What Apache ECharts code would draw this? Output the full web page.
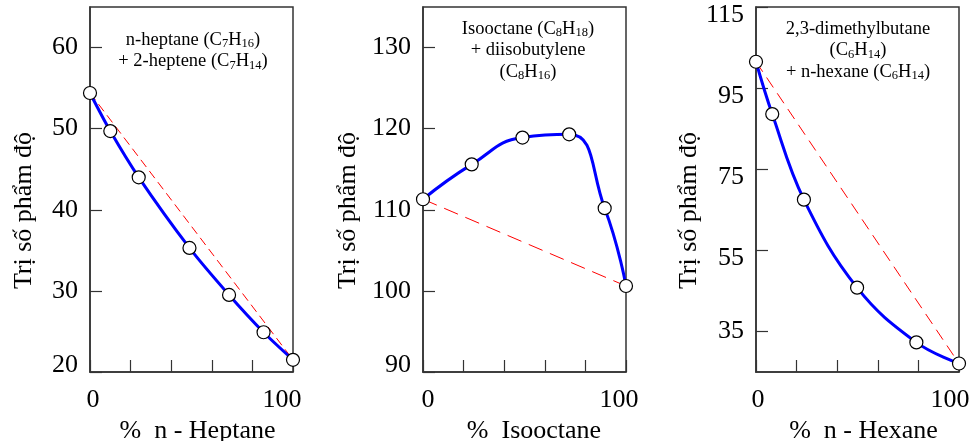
<!DOCTYPE html>
<html>
<head>
<meta charset="utf-8">
<script src="https://cdn.jsdelivr.net/npm/echarts@6/dist/echarts.min.js"></script>
<style>
  html, body { margin: 0; padding: 0; background: #fff; }
  #chart { width: 974px; height: 441px; }
</style>
</head>
<body>
<div id="chart"></div>
<script>
// Octane number of binary hydrocarbon blends vs. composition
const heptaneX = [0, 10, 24, 49, 68.5, 85.5, 100];
const heptaneY = [54.4, 49.7, 44.0, 35.3, 29.5, 24.9, 21.5];

const isooctaneX = [0, 24, 49, 72, 89.5, 100];
const isooctaneY = [111.3, 115.6, 118.9, 119.3, 110.2, 100.6];

const hexaneX = [0, 8, 23.6, 49.8, 79, 100];
const hexaneY = [101.5, 88.6, 67.5, 45.8, 32.3, 27.1];

const xTickLabels = [0, 100];
const yTicks1 = [20, 30, 40, 50, 60];
const yTicks2 = [90, 100, 110, 120, 130];
const yTicks3 = [35, 55, 75, 95, 115];

const yAxisName = 'Trị số phẩm độ';
const xAxisNames = ['%  n - Heptane', '%  Isooctane', '%  n - Hexane'];

const FONT = 'Liberation Serif';
const FRAME = '#333';

const gridW = 203, gridTop = 7, gridH = 365;
const gridLefts = [90, 423, 756];

function xAxis(idx, shift0, shift100, nameShift) {
  return {
    type: 'value', gridIndex: idx, min: 0, max: 100, interval: 20,
    axisLine: { show: true, lineStyle: { color: FRAME, width: 1.5 } },
    axisTick: { show: true, inside: true, length: 12, lineStyle: { color: FRAME, width: 1.2 } },
    splitLine: { show: false },
    axisLabel: {
      color: '#000', fontFamily: FONT, fontSize: 26, margin: 15,
      formatter: v => xTickLabels.includes(v) ? (v === 0 ? '{a|' + v + '}' : '{b|' + v + '}') : '',
      rich: {
        a: { fontFamily: FONT, fontSize: 26, color: '#000', padding: [0, 0, 0, shift0] },
        b: { fontFamily: FONT, fontSize: 26, color: '#000', padding: [0, shift100, 0, 0] }
      }
    },
    name: xAxisNames[idx], nameLocation: 'middle', nameGap: 42,
    nameTextStyle: { color: '#000', fontFamily: FONT, fontSize: 26, padding: [0, 0, 0, nameShift] }
  };
}

function yAxis(idx, min, max, ticks, labelFmt, nameGap) {
  return {
    type: 'value', gridIndex: idx, min: min, max: max,
    axisLine: { show: true, lineStyle: { color: FRAME, width: 1.5 } },
    axisTick: {
      show: true, inside: true, length: 12, lineStyle: { color: FRAME, width: 1.2 },
      customValues: ticks
    },
    splitLine: { show: false },
    axisLabel: {
      color: '#000', fontFamily: FONT, fontSize: 26, margin: 12,
      customValues: ticks,
      formatter: labelFmt,
      rich: {
        n: { fontFamily: FONT, fontSize: 26, color: '#000' },
        u: { fontFamily: FONT, fontSize: 26, color: '#000', padding: [0, 0, 14, 0] },
        d: { fontFamily: FONT, fontSize: 26, color: '#000', padding: [16, 0, 0, 0] }
      }
    },
    name: yAxisName, nameLocation: 'middle', nameGap: nameGap,
    nameTextStyle: { color: '#000', fontFamily: FONT, fontSize: 26, padding: [0, 42, 0, 0] }
  };
}

function mixSeries(idx, xs, ys, dash, smooth) {
  const pts = xs.map((x, i) => [x, ys[i]]);
  return [
    {
      type: 'line', xAxisIndex: idx, yAxisIndex: idx,
      data: [pts[0], pts[pts.length - 1]],
      symbol: 'none', silent: true, z: 2,
      lineStyle: { color: '#ff0000', width: 1, type: dash }
    },
    {
      type: 'line', xAxisIndex: idx, yAxisIndex: idx,
      data: pts, smooth: smooth, z: 3,
      symbol: 'circle', symbolSize: 13, showAllSymbol: true,
      lineStyle: { color: '#0000ff', width: 3 },
      itemStyle: { color: '#fff', borderColor: '#000', borderWidth: 1.2 }
    }
  ];
}

const rich = {
  n: { fontFamily: FONT, fontSize: 18.5, fontWeight: 'normal', color: '#000', lineHeight: 21.5 },
  s: { fontFamily: FONT, fontSize: 12.5, fontWeight: 'normal', color: '#000', lineHeight: 12, verticalAlign: 'bottom' }
};

function caption(cx, top, text) {
  return {
    text: text, left: cx, top: top, textAlign: 'center', padding: 0,
    textStyle: { fontWeight: 'normal', fontFamily: FONT, rich: rich }
  };
}

const chart = echarts.init(document.getElementById('chart'), null, { renderer: 'canvas' });

chart.setOption({
  animation: false,
  backgroundColor: '#fff',
  title: [
    caption(193, 29, '{n|n-heptane (C}{s|7}{n|H}{s|16}{n|)}\n{n|+ 2-heptene (C}{s|7}{n|H}{s|14}{n|)}'),
    caption(528, 18, '{n|Isooctane (C}{s|8}{n|H}{s|18}{n|)}\n{n|+ diisobutylene}\n{n|(C}{s|8}{n|H}{s|16}{n|)}'),
    caption(858, 18, '{n|2,3-dimethylbutane}\n{n|(C}{s|6}{n|H}{s|14}{n|)}\n{n|+ n-hexane (C}{s|6}{n|H}{s|14}{n|)}')
  ],
  grid: gridLefts.map(l => ({
    left: l, top: gridTop, width: gridW, height: gridH,
    containLabel: false, outerBoundsMode: 'none',
    show: true, borderColor: FRAME, borderWidth: 1.5, backgroundColor: 'transparent'
  })),
  xAxis: [
    xAxis(0, 6, 22, 12),
    xAxis(1, 10, 14, 19),
    xAxis(2, 4, 18, 12)
  ],
  yAxis: [
    yAxis(0, 20, 65, yTicks1, v => v === 20 ? '{u|' + v + '}' : '{n|' + v + '}', 53),
    yAxis(1, 90, 135, yTicks2, v => v === 90 ? '{u|' + v + '}' : '{n|' + v + '}', 62),
    yAxis(2, 25, 115, yTicks3, v => v === 35 ? '{n|' + v + '}' : '{d|' + v + '}', 53)
  ],
  series: [].concat(
    mixSeries(0, heptaneX, heptaneY, [9, 5], 0.3),
    mixSeries(1, isooctaneX, isooctaneY, [15, 8], 0.5),
    mixSeries(2, hexaneX, hexaneY, [12, 7], 0.4)
  )
});
</script>
</body>
</html>
